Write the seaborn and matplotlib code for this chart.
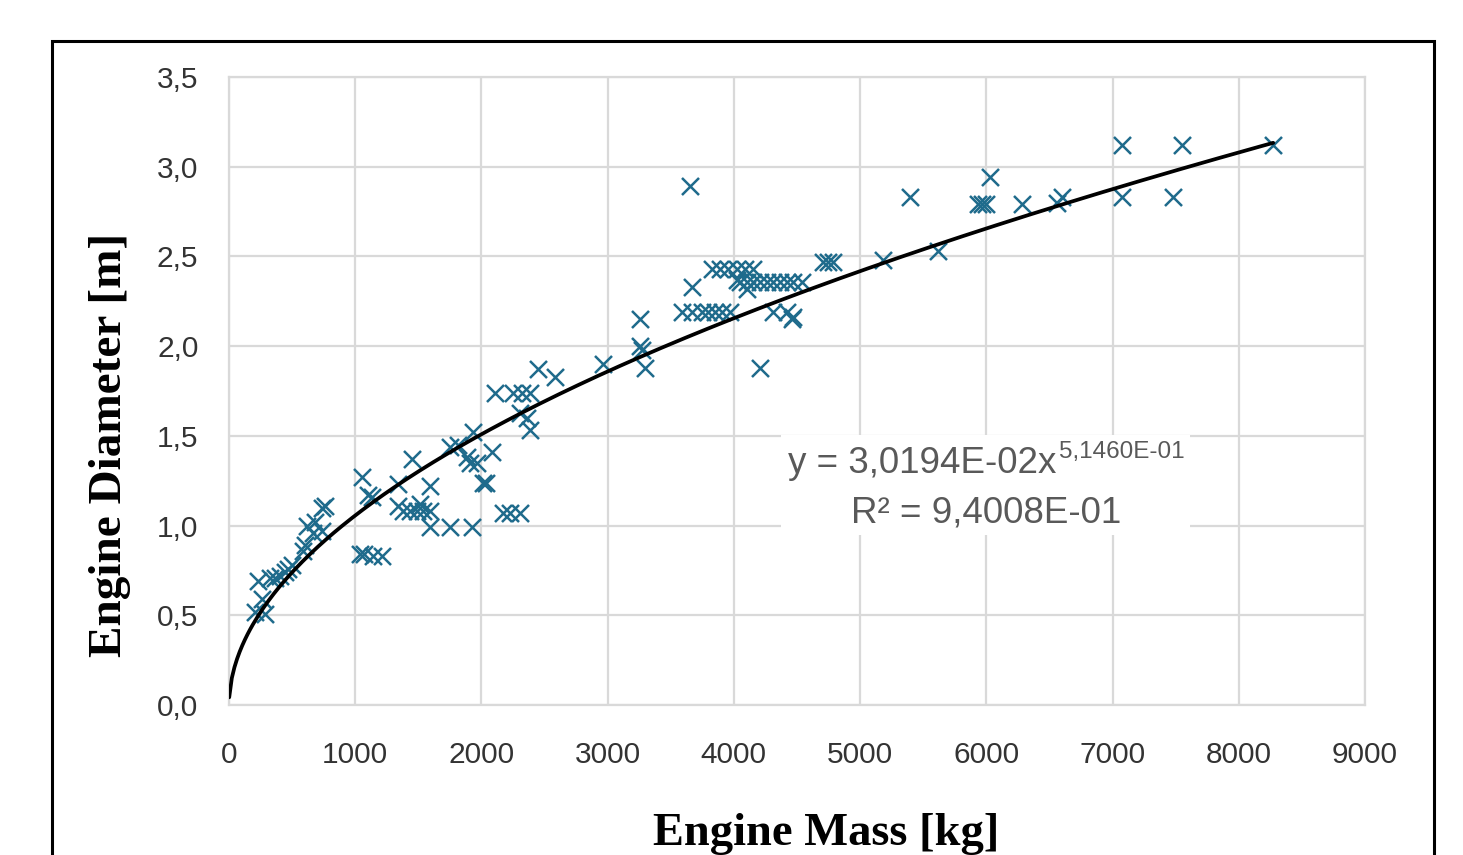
import numpy as np
import pandas as pd
import matplotlib
matplotlib.use("Agg")
import matplotlib.pyplot as plt
from matplotlib.patches import Rectangle
import seaborn as sns

sns.set_theme(style="white")
plt.rcParams['font.family'] = ['Liberation Sans', 'DejaVu Sans']

# Engine data
engine_mass = [
    206, 285, 230, 261, 325, 365, 404, 444, 468, 500, 590, 605, 618, 666, 681, 737, 761, 737,
    1038, 1070, 1141, 1212, 1054, 1101, 1133, 1339, 1339, 1379, 1434, 1490, 1537, 1593, 1513,
    1450, 1593, 1593, 1751, 1926, 1751, 1815, 1886, 1910, 1933, 1965, 2013, 2036, 2084, 2108,
    2171, 2227, 2306, 2250, 2322, 2385, 2306, 2361, 2385, 2449, 2583, 2964,
    3257, 3273, 3257, 3296, 3669, 3653,
    3590, 3669, 3748, 3796, 3851, 3907, 3970,
    3827, 3891, 3954, 4025, 4089, 4152, 4025,
    4049, 4105, 4152, 4208, 4263, 4311, 4366, 4422, 4469, 4540, 4105,
    4208, 4311, 4422, 4469, 4461, 4707, 4747, 4786, 5183, 5396, 5618,
    5935, 5967, 5999, 6030, 6284, 6561, 6601, 7076, 7480, 7076, 7552, 8273,
]
engine_diameter = [
    0.52, 0.51, 0.69, 0.59, 0.71, 0.71, 0.72, 0.74, 0.76, 0.78, 0.86, 0.89, 1.00, 0.96, 1.02, 0.97, 1.11, 1.10,
    0.84, 0.84, 0.83, 0.83, 1.27, 1.17, 1.16, 1.23, 1.11, 1.08, 1.08, 1.08, 1.08, 1.08, 1.12,
    1.37, 1.22, 0.99, 0.99, 0.99, 1.44, 1.45, 1.38, 1.35, 1.52, 1.35, 1.24, 1.24, 1.41, 1.74,
    1.07, 1.07, 1.07, 1.74, 1.74, 1.74, 1.63, 1.60, 1.53, 1.87, 1.83, 1.90,
    2.00, 1.98, 2.15, 1.88, 2.33, 2.89,
    2.19, 2.19, 2.19, 2.19, 2.19, 2.19, 2.19,
    2.43, 2.43, 2.43, 2.43, 2.43, 2.43, 2.37,
    2.36, 2.36, 2.36, 2.36, 2.36, 2.36, 2.36, 2.36, 2.36, 2.36, 2.32,
    1.88, 2.19, 2.19, 2.16, 2.15, 2.47, 2.47, 2.47, 2.48, 2.83, 2.53,
    2.79, 2.79, 2.79, 2.94, 2.79, 2.80, 2.83, 2.83, 2.83, 3.12, 3.12, 3.12,
]

# Power trendline shown on the chart
fit_a = 3.0194e-02
fit_b = 5.1460e-01
x_ticks = [0, 1000, 2000, 3000, 4000, 5000, 6000, 7000, 8000, 9000]
y_ticks = [0.0, 0.5, 1.0, 1.5, 2.0, 2.5, 3.0, 3.5]

df = pd.DataFrame({'mass': engine_mass, 'diameter': engine_diameter})
x_fit = np.linspace(2, max(engine_mass), 400)
fit = pd.DataFrame({'mass': x_fit, 'diameter': fit_a * x_fit ** fit_b})

fig = plt.figure(figsize=(14.63, 8.55), dpi=100)
ax = fig.add_axes([0.1565, 0.1754, 0.7765, 0.7346])

sns.scatterplot(data=df, x='mass', y='diameter', marker='x', color='#1F6B8C',
                s=150, linewidth=1.8, ax=ax, zorder=3)
sns.lineplot(data=fit, x='mass', y='diameter', color='black', linewidth=2.7,
             ax=ax, zorder=4)

ax.set_xlim(0, 9000)
ax.set_ylim(0, 3.5)
ax.set_xticks(x_ticks)
ax.set_yticks(y_ticks)
ax.set_xticklabels([str(t) for t in x_ticks])
ax.set_yticklabels([f"{t:.1f}".replace('.', ',') for t in y_ticks])
ax.grid(True, color='#d9d9d9', linewidth=1.6)
ax.set_axisbelow(True)
for s in ax.spines.values():
    s.set_color('#d9d9d9')
    s.set_linewidth(1.6)
ax.tick_params(axis='both', length=0, labelsize=21.5, colors='#333333')
ax.tick_params(axis='y', pad=22)
ax.tick_params(axis='x', pad=26)

ax.set_xlabel('Engine Mass [kg]', fontfamily='Liberation Serif', fontweight='bold',
              fontsize=33.5, color='black')
ax.set_ylabel('Engine Diameter [m]', fontfamily='Liberation Serif', fontweight='bold',
              fontsize=34, color='black')
ax.xaxis.set_label_coords(0.5255, -0.205)
ax.yaxis.set_label_coords(-0.105, 0.414)
ax.xaxis.label.set_va('center')
ax.yaxis.label.set_va('center')

# Equation box
ax.add_patch(Rectangle((0.486, 0.27), 0.36, 0.16, transform=ax.transAxes,
                       facecolor='white', edgecolor='none', zorder=2))
ax.text(0.492, 0.384, 'y = 3,0194E-02x', transform=ax.transAxes, fontsize=26.5,
        color='#595959', ha='left', va='center', zorder=5)
ax.text(0.731, 0.403, '5,1460E-01', transform=ax.transAxes, fontsize=17.5,
        color='#595959', ha='left', va='center', zorder=5)
ax.text(0.548, 0.305, 'R² = 9,4008E-01', transform=ax.transAxes, fontsize=26.5,
        color='#595959', ha='left', va='center', zorder=5)

# Outer frame
fig.patches.append(Rectangle((0.0355, -0.02), 0.9447, 0.972, transform=fig.transFigure,
                             fill=False, edgecolor='black', linewidth=2.2))

plt.savefig('out.png', dpi=100)
